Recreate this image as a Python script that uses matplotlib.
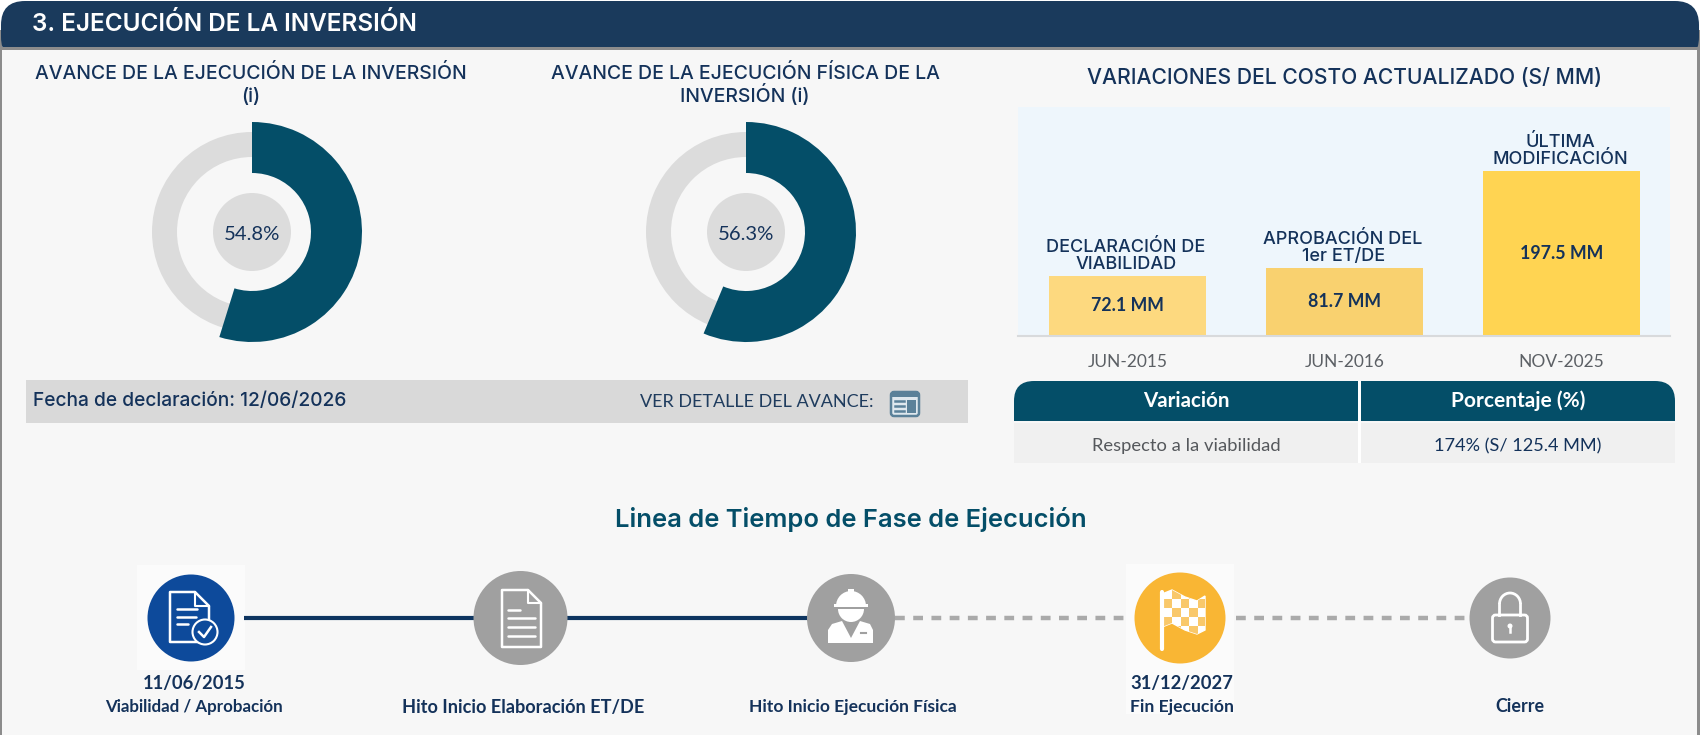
import matplotlib
matplotlib.use('Agg')
import matplotlib.pyplot as plt
from matplotlib.patches import Rectangle, Circle, FancyBboxPatch, Polygon, Arc, Wedge, PathPatch
from matplotlib.path import Path

# data
section_title = '3. EJECUCIÓN DE LA INVERSIÓN'
donut_titles = [['AVANCE DE LA EJECUCIÓN DE LA INVERSIÓN', '(i)'],
                ['AVANCE DE LA EJECUCIÓN FÍSICA DE LA', 'INVERSIÓN (i)']]
donut_values = [54.8, 56.3]
cost_values = [72.1, 81.7, 197.5]
cost_names = ['DECLARACIÓN DE\nVIABILIDAD', 'APROBACIÓN DEL\n1er ET/DE', 'ÚLTIMA\nMODIFICACIÓN']
cost_dates = ['JUN-2015', 'JUN-2016', 'NOV-2025']
cost_colors = ['#fdd97f', '#f9d16f', '#ffd452']
milestone_dates = ['11/06/2015', '', '', '31/12/2027', '']
milestone_names = ['Viabilidad / Aprobación', 'Hito Inicio Elaboración ET/DE',
                   'Hito Inicio Ejecución Física', 'Fin Ejecución', 'Cierre']

NAVY = '#1a3a5c'
TEAL = '#044e68'
TEXT = '#14325a'
GREY = '#a0a0a0'
BG = '#f7f7f7'
W, H = 1700, 735

plt.rcParams['font.family'] = ['Lato', 'DejaVu Sans']

fig = plt.figure(figsize=(W / 100, H / 100), dpi=100, facecolor='white')
ax = fig.add_axes([0, 0, 1, 1])
ax.set_xlim(0, W)
ax.set_ylim(H, 0)
ax.axis('off')


def sub_axes(x0, y0, x1, y1):
    return fig.add_axes([x0 / W, 1 - y1 / H, (x1 - x0) / W, (y1 - y0) / H])


def label(x, y, s, size, color=TEXT, weight='normal', family='Lato', **kw):
    ax.text(x, y, s, fontsize=size, color=color, fontweight=weight, family=[family, 'DejaVu Sans'],
            ha=kw.pop('ha', 'center'), va=kw.pop('va', 'center'), **kw)


# panel and header
ax.add_patch(Rectangle((0, 20), W, H, fc=BG, ec='none'))
ax.add_patch(Rectangle((0, 30), 2.5, H, fc='#8c8c8c', ec='none'))
ax.add_patch(Rectangle((W - 3, 30), 3, H, fc='#8c8c8c', ec='none'))
ax.add_patch(FancyBboxPatch((1, 1), W - 2, 60, boxstyle='round,pad=0,rounding_size=24', fc=NAVY, ec='none'))
ax.add_patch(Rectangle((0, 47), W, 20, fc=BG, ec='none'))
ax.add_patch(Rectangle((0, 47), W, 2.5, fc='#8c8c8c', ec='none'))
ax.add_patch(Rectangle((0, 47), 2.5, 30, fc='#8c8c8c', ec='none'))
ax.add_patch(Rectangle((W - 3, 47), 3, 30, fc='#8c8c8c', ec='none'))
label(32, 24, section_title, 17.5, color='white', weight='semibold', family='Inter', ha='left')

# donuts
for cx, title, value in zip([252, 746], donut_titles, donut_values):
    a = sub_axes(cx - 120, 232 - 120, cx + 120, 232 + 120)
    a.pie([100], radius=100, colors=['#dcdcdc'], wedgeprops={'width': 25}, startangle=90)
    a.pie([value, 100 - value], radius=110, colors=[TEAL, 'none'], wedgeprops={'width': 51},
          startangle=90, counterclock=False)
    a.pie([100], radius=39, colors=['#dcdcdc'])
    a.set_xlim(-120, 120)
    a.set_ylim(-120, 120)
    a.patch.set_alpha(0)
    a.text(0, -2, '%.1f%%' % value, ha='center', va='center', fontsize=14.6, color=TEXT)
    label(cx - 1, 78.5, title[0], 14.0, weight='medium', family='Inter', va='baseline')
    label(cx - 1, 102, title[1], 14.0, weight='medium', family='Inter', va='baseline')

# declaration bar
ax.add_patch(Rectangle((26, 380), 942, 43, fc='#d9d9d9', ec='none'))
label(33, 401, 'Fecha de declaración: 12/06/2026', 13.8, weight='medium', family='Inter', ha='left')
label(640, 402, 'VER DETALLE DEL AVANCE:', 13, family='Lato', ha='left', color='#1f3c5e')
ax.add_patch(FancyBboxPatch((891, 392), 28, 24, boxstyle='round,pad=0,rounding_size=3',
                            fc='#dfe8ee', ec='#5b8199', lw=1.8))
ax.add_patch(Rectangle((891, 392), 28, 5, fc='#5b8199', ec='none'))
for yy in [401, 406, 411]:
    ax.plot([895, 904], [yy, yy], color='#5b8199', lw=1.8)
ax.add_patch(Rectangle((907, 400), 9, 13, fc='#5b8199', ec='none'))

# cost chart
label(1344.5, 78, 'VARIACIONES DEL COSTO ACTUALIZADO (S/ MM)', 15.2, weight='medium', family='Inter')
b = sub_axes(1018, 107, 1670, 336)
b.set_facecolor('#eef6fc')
positions = list(range(len(cost_values)))
bars = b.bar(positions, cost_values, width=0.7235, color=cost_colors)
b.set_xlim(-0.5046, 2.5)
b.set_ylim(0, 274)
b.set_yticks([])
b.set_xticks(positions, cost_dates)
b.tick_params(axis='x', length=0, pad=13, labelsize=12.5, labelcolor='#5c6065')
for s in ['top', 'left', 'right']:
    b.spines[s].set_visible(False)
b.spines['bottom'].set_color('#d8dadc')
b.spines['bottom'].set_linewidth(1.5)
for p, v, name in zip(positions, cost_values, cost_names):
    b.text(p, v / 2, '%.1f MM' % v, ha='center', va='center', fontsize=12.8, fontweight='bold', color=TEXT)
    b.annotate(name, (p, v), xytext=(-1, 2.2), textcoords='offset points', ha='center', va='bottom',
               fontsize=13, fontweight='medium', family=['Inter', 'DejaVu Sans'], color=TEXT, linespacing=1.0)

# table
header = FancyBboxPatch((1014, 381), 661, 60, boxstyle='round,pad=0,rounding_size=20', fc=TEAL, ec='none')
ax.add_patch(header)
ax.add_patch(Rectangle((1014, 421), 661, 25, fc=BG, ec='none'))
ax.add_patch(Rectangle((1014, 402), 661, 19, fc=TEAL, ec='none'))
ax.add_patch(Rectangle((1358, 381), 3, 82, fc='white', ec='none'))
ax.add_patch(Rectangle((1014, 423), 344, 40, fc='#f0f0f0', ec='none'))
ax.add_patch(Rectangle((1361, 423), 314, 40, fc='#f0f0f0', ec='none'))
label(1186, 401, 'Variación', 14.8, color='white', weight='bold')
label(1518, 401, 'Porcentaje (%)', 15, color='white', weight='bold')
label(1186, 446, 'Respecto a la viabilidad', 13.2, color='#55585c')
label(1518, 446, '174% (S/ 125.4 MM)', 13.1, color=TEXT)

# timeline
label(851, 520, 'Linea de Tiempo de Fase de Ejecución', 18.4, color=TEAL, weight='semibold', family='Inter')
ax.add_patch(Rectangle((137, 565), 108, 105, fc='#fbfbfb', ec='none'))
ax.add_patch(Rectangle((1126, 564), 108, 150, fc='#fbfbfb', ec='none'))
ax.plot([244, 851], [618, 618], color='#0e3560', lw=3, solid_capstyle='butt', zorder=2)
ax.plot([895, 1125], [618, 618], color='#aaaaaa', lw=3.2, dashes=(2.2, 1.9), zorder=2)
ax.plot([1236, 1472], [618, 618], color='#aaaaaa', lw=3.2, dashes=(2.2, 1.9), zorder=2)

centers = [191, 520.5, 851, 1180, 1510]
radii = [43.5, 47, 44, 45.5, 40.5]
fills = ['#0d4a9b', GREY, GREY, '#f9b634', GREY]
for cx, r, c in zip(centers, radii, fills):
    ax.add_patch(Circle((cx, 618), r, fc=c, ec='none', zorder=3))

text_x = [194, 523, 852.5, 1182, 1520]
name_sizes = [12.2, 13.1, 12.5, 12.6, 12.9]
for x, d, n, fs in zip(text_x, milestone_dates, milestone_names, name_sizes):
    if d:
        label(x, 683, d, 13.2, weight='bold')
    label(x, 707, n, fs, weight='bold')


def document(x0, y0, x1, y1, lines, fold=14, color='white'):
    pts = [(x0, y0), (x1 - fold, y0), (x1, y0 + fold), (x1, y1), (x0, y1)]
    ax.add_patch(Polygon(pts, closed=True, fc='none', ec=color, lw=1.8, zorder=4, joinstyle='round'))
    ax.plot([x1 - fold, x1 - fold, x1], [y0, y0 + fold, y0 + fold], color=color, lw=1.5, zorder=4)
    for lx0, lx1, ly in lines:
        ax.plot([lx0, lx1], [ly, ly], color=color, lw=1.8, zorder=4, solid_capstyle='round')


# icon 1: document with check
document(170, 592, 209, 642, [(177, 197, 609), (177, 196, 617), (177, 188, 624)])
ax.add_patch(Circle((205, 632), 12.5, fc='#0d4a9b', ec='white', lw=1.5, zorder=5))
ax.plot([199, 204, 211], [632, 637, 627], color='white', lw=1.8, zorder=6)

# icon 2: plain document
document(502, 590, 541, 647, [(508, 520, 610), (508, 535, 618), (508, 535, 627), (508, 535, 636)], fold=13)

# icon 3: worker
ax.add_patch(Wedge((851, 606), 15, 180, 360, fc='white', ec='none', zorder=4))
ax.add_patch(Rectangle((834, 604), 34, 3, fc='white', ec='none', zorder=4))
ax.add_patch(Rectangle((848, 589), 6, 8, fc='white', ec='none', zorder=4))
ax.add_patch(Wedge((851, 609), 13, 0, 180, fc='white', ec='none', zorder=4))
body = Path([(828, 643), (828, 630), (832, 624), (842, 621), (851, 638), (860, 621), (870, 624),
             (873, 630), (873, 643), (828, 643)])
ax.add_patch(PathPatch(body, fc='white', ec='none', zorder=4))
ax.plot([861, 866], [633, 633], color=GREY, lw=1.5, zorder=5)

# icon 4: checkered flag
ax.plot([1162, 1162], [592, 649], color='white', lw=3, zorder=5, solid_capstyle='round')
cloth = Path([(1162, 594), (1172, 590), (1185, 597), (1197, 601), (1205, 596), (1205, 630),
              (1197, 634), (1185, 630), (1172, 623), (1162, 627), (1162, 594)],
             [Path.MOVETO] + [Path.LINETO] * 9 + [Path.CLOSEPOLY])
flag = PathPatch(cloth, fc='white', ec='white', lw=1, zorder=4)
ax.add_patch(flag)
for i in range(5):
    for j in range(5):
        if (i + j) % 2:
            cell = Rectangle((1164 + i * 8.4, 590 + j * 9), 8.4, 9, fc='#f9c86a', ec='none', zorder=4.5)
            ax.add_patch(cell)
            cell.set_clip_path(flag)

# icon 5: lock
ax.add_patch(FancyBboxPatch((1492.5, 615), 35, 27, boxstyle='round,pad=0,rounding_size=3', fc='none', ec='white', lw=2, zorder=4))
ax.add_patch(Arc((1510, 604), 21, 22, theta1=180, theta2=360, color='white', lw=2, zorder=4))
ax.plot([1499.5, 1499.5], [604, 615], color='white', lw=2, zorder=4)
ax.plot([1520.5, 1520.5], [604, 615], color='white', lw=2, zorder=4)
ax.add_patch(Circle((1510, 626), 2.5, fc='white', ec='none', zorder=4))
ax.plot([1510, 1510], [626, 632], color='white', lw=1.8, zorder=4)

fig.savefig('out.png', dpi=100, facecolor=fig.get_facecolor())
